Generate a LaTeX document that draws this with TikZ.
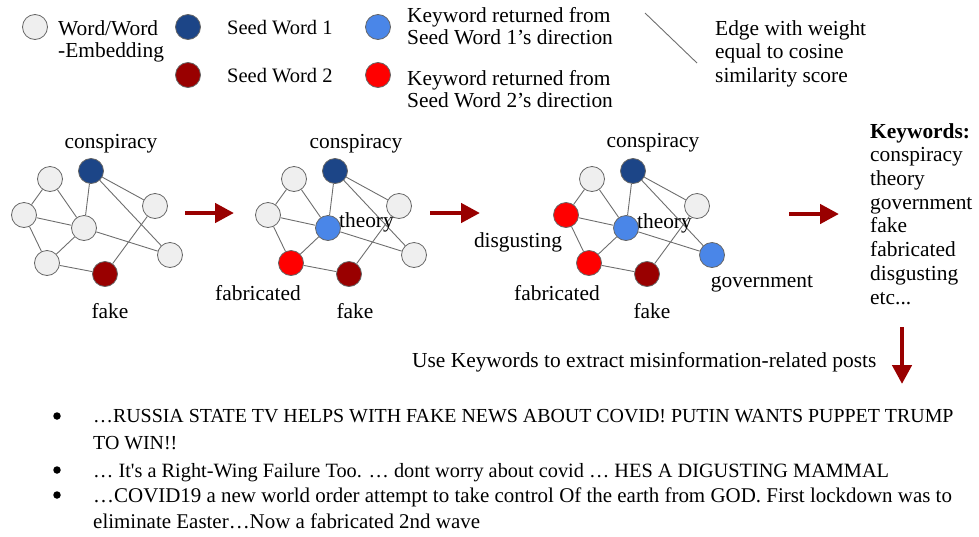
\documentclass[tikz,border=0pt]{standalone}
\usepackage{fontspec}
\setmainfont{Liberation Serif}
\usetikzlibrary{arrows.meta,positioning}
\definecolor{wordgray}{HTML}{EFEFEF}
\definecolor{rim}{HTML}{666666}
\definecolor{seedblue}{HTML}{1C4587}
\definecolor{seedred}{HTML}{990000}
\definecolor{kwblue}{HTML}{4A86E8}
\definecolor{kwred}{HTML}{FF0000}
\definecolor{edgegray}{HTML}{6E6E6E}
\tikzset{
  vertex/.style={circle,draw=rim,line width=0.8pt,minimum size=25pt,inner sep=0pt},
  word/.style={vertex,fill=wordgray},
  seedone/.style={vertex,fill=seedblue},
  seedtwo/.style={vertex,fill=seedred},
  kwone/.style={vertex,fill=kwblue},
  kwtwo/.style={vertex,fill=kwred},
  edge/.style={draw=edgegray,line width=0.9pt},
  move/.style={-{Triangle[length=19pt,width=19pt]},line width=4.5pt,draw=seedred},
  txt/.style={font=\fontsize{21.4}{23.5}\selectfont,inner sep=0pt,align=left},
  lbl/.style={font=\fontsize{21.4}{23.5}\selectfont,inner sep=0pt},
  post/.style={font=\fontsize{20.6}{27}\selectfont,inner sep=0pt,align=left},
  pip/.style={circle,fill=black,minimum size=7.5pt,inner sep=0pt}
}
\begin{document}
\begin{tikzpicture}[x=1pt,y=-1pt]
\useasboundingbox (0,0) rectangle (979,536);

% legend
\node[word] (lgword) at (35,27) {};
\node[txt,font=\fontsize{21.4}{22}\selectfont,anchor=base west] (lgwordtxt) at (58,57) {Word/Word\\-Embedding};
\node[seedone] (lgseedone) at (188,27) {};
\node[txt,font=\fontsize{20.5}{22}\selectfont,anchor=base west] (lgseedonetxt) at (227,34) {Seed Word 1};
\node[seedtwo] (lgseedtwo) at (188,75) {};
\node[txt,font=\fontsize{20.5}{22}\selectfont,anchor=base west] (lgseedtwotxt) at (227,82) {Seed Word 2};
\node[kwone] (lgkwone) at (378,27) {};
\node[txt,font=\fontsize{21.4}{22}\selectfont,anchor=base west] (lgkwonetxt) at (407,44) {Keyword returned from\\Seed Word 1's direction};
\node[kwtwo] (lgkwtwo) at (378,75) {};
\node[txt,font=\fontsize{21.4}{22}\selectfont,anchor=base west] (lgkwtwotxt) at (407,107) {Keyword returned from\\Seed Word 2's direction};
\coordinate (lgedgea) at (645,13);
\coordinate (lgedgeb) at (697,63);
\draw[edge] (lgedgea) -- (lgedgeb);
\node[txt,anchor=base west] (lgedgetxt) at (715,82) {Edge with weight\\equal to cosine\\similarity score};

% stage 1: seed words only
\node[seedone] (s1con) at (91,171) {};
\node[word] (s1tl) at (50,179) {};
\node[word] (s1l) at (24,215) {};
\node[word] (s1c) at (84,228) {};
\node[word] (s1rt) at (155,206) {};
\node[word] (s1rb) at (170,255) {};
\node[word] (s1bl) at (47,263) {};
\node[seedtwo] (s1fk) at (105,274) {};
\draw[edge] (s1tl) -- (s1l) (s1tl) -- (s1c) (s1l) -- (s1c) (s1l) -- (s1bl) (s1bl) -- (s1c) (s1bl) -- (s1fk)
  (s1con) -- (s1c) (s1con) -- (s1rt) (s1con) -- (s1rb) (s1c) -- (s1rb) (s1rt) -- (s1fk);
\node[lbl,above=4.5pt of s1con,xshift=20pt] (s1conlbl) {conspiracy};
\node[lbl,below=16pt of s1fk,xshift=5pt] (s1fklbl) {fake};

% stage 2: first neighbours
\node[seedone] (s2con) at (335,171) {};
\node[word] (s2tl) at (294,179) {};
\node[word] (s2l) at (268,215) {};
\node[kwone] (s2c) at (328,228) {};
\node[word] (s2rt) at (399,206) {};
\node[word] (s2rb) at (414,255) {};
\node[kwtwo] (s2bl) at (291,263) {};
\node[seedtwo] (s2fk) at (349,274) {};
\draw[edge] (s2tl) -- (s2l) (s2tl) -- (s2c) (s2l) -- (s2c) (s2l) -- (s2bl) (s2bl) -- (s2c) (s2bl) -- (s2fk)
  (s2con) -- (s2c) (s2con) -- (s2rt) (s2con) -- (s2rb) (s2c) -- (s2rb) (s2rt) -- (s2fk);
\node[lbl,above=4.5pt of s2con,xshift=21pt] (s2conlbl) {conspiracy};
\node[lbl,right=-2pt of s2c,yshift=6pt] (s2clbl) {theory};
\node[lbl,below=9pt of s2bl,xshift=-33pt] (s2bllbl) {fabricated};
\node[lbl,below=16pt of s2fk,xshift=6pt] (s2fklbl) {fake};

% stage 3: second neighbours
\node[seedone] (s3con) at (633,171) {};
\node[word] (s3tl) at (592,179) {};
\node[kwtwo] (s3l) at (566,215) {};
\node[kwone] (s3c) at (626,228) {};
\node[word] (s3rt) at (697,206) {};
\node[kwone] (s3rb) at (712,255) {};
\node[kwtwo] (s3bl) at (589,263) {};
\node[seedtwo] (s3fk) at (647,274) {};
\draw[edge] (s3tl) -- (s3l) (s3tl) -- (s3c) (s3l) -- (s3c) (s3l) -- (s3bl) (s3bl) -- (s3c) (s3bl) -- (s3fk)
  (s3con) -- (s3c) (s3con) -- (s3rt) (s3con) -- (s3rb) (s3c) -- (s3rb) (s3rt) -- (s3fk);
\node[lbl,above=6pt of s3con,xshift=20pt] (s3conlbl) {conspiracy};
\node[lbl,right=-2pt of s3c,yshift=5pt] (s3clbl) {theory};
\node[lbl,below=5pt of s3l,xshift=-48pt] (s3llbl) {disgusting};
\node[lbl,below=9pt of s3bl,xshift=-32pt] (s3bllbl) {fabricated};
\node[lbl,below=7pt of s3rb,xshift=50pt] (s3rblbl) {government};
\node[lbl,below=16pt of s3fk,xshift=5pt] (s3fklbl) {fake};

% arrows between stages
\coordinate (mv1a) at (185,213);
\coordinate (mv1b) at (234,213);
\coordinate (mv2a) at (430,213);
\coordinate (mv2b) at (480,213);
\coordinate (mv3a) at (789,214);
\coordinate (mv3b) at (839,214);
\draw[move] (mv1a) -- (mv1b);
\draw[move] (mv2a) -- (mv2b);
\draw[move] (mv3a) -- (mv3b);

\node[txt,font=\fontsize{21.4}{23.7}\selectfont,anchor=base west] (kwlist) at (870,304)
  {\textbf{Keywords:}\\conspiracy\\theory\\government\\fake\\fabricated\\disgusting\\etc...};

\coordinate (mvda) at (902,327);
\coordinate (mvdb) at (902,384);
\draw[move] (mvda) -- (mvdb);
\node[txt,anchor=base west] (usekw) at (412,367) {Use Keywords to extract misinformation-related posts};

% extracted posts
\node[post,font=\fontsize{19.9}{27}\selectfont,anchor=base west] (post1) at (93,449)
  {…RUSSIA STATE TV HELPS WITH FAKE NEWS ABOUT COVID! PUTIN WANTS PUPPET TRUMP\\TO WIN!!};
\node[post,font=\fontsize{20.3}{27}\selectfont,anchor=base west] (post2) at (93,477)
  {… It\textquotesingle s a Right-Wing Failure Too. … dont worry about covid … HES A DIGUSTING MAMMAL};
\node[post,font=\fontsize{20.95}{26}\selectfont,anchor=base west] (post3) at (93,528)
  {…COVID19 a new world order attempt to take control Of the earth from GOD. First lockdown was to\\eliminate Easter…Now a fabricated 2nd wave};
\node[pip] (pip1) at (57,416) {};
\node[pip] (pip2) at (57,470) {};
\node[pip] (pip3) at (57,495) {};
\end{tikzpicture}
\end{document}
